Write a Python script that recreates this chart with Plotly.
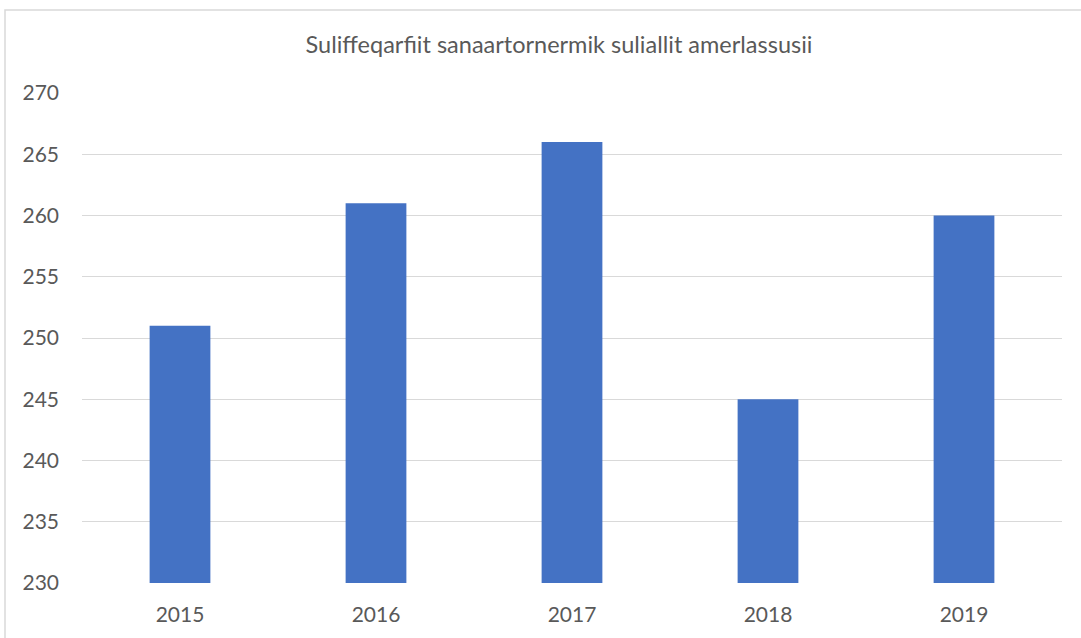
import plotly.graph_objects as go

years = ["2015", "2016", "2017", "2018", "2019"]
values = [251, 261, 266, 245, 260]
y_ticks = [230, 235, 240, 245, 250, 255, 260, 265, 270]

W, H = 1081, 638
L, R, T, B = 82, 19, 93, 55
pw, ph = W - L - R, H - T - B

fig = go.Figure(
    go.Bar(x=years, y=values, marker=dict(color="#4472C4", line=dict(width=0)))
)

fig.update_layout(
    width=W,
    height=H,
    margin=dict(l=L, r=R, t=T, b=B),
    paper_bgcolor="white",
    plot_bgcolor="white",
    bargap=0.69,
    showlegend=False,
    font=dict(family="Lato, Open Sans, sans-serif", color="#595959", size=21),
    title=dict(
        text="Suliffeqarfiit sanaartornermik suliallit amerlassusii",
        x=559 / W,
        xanchor="center",
        y=1 - 45 / H,
        yanchor="middle",
        font=dict(size=23.5, color="#595959"),
    ),
    xaxis=dict(
        showgrid=False,
        showline=False,
        ticks="",
        ticklabelstandoff=17,
    ),
    yaxis=dict(
        range=[230, 270],
        tickvals=y_ticks,
        showgrid=True,
        gridcolor="#d9d9d9",
        gridwidth=1,
        zeroline=False,
        showline=False,
        ticks="",
        ticklabelstandoff=22,
    ),
    shapes=[
        dict(
            type="rect",
            xref="paper",
            yref="paper",
            x0=(5 - L) / pw,
            x1=(W + 20 - L) / pw,
            y0=-(B + 20) / ph,
            y1=(H - B - 10) / ph,
            line=dict(color="#d9d9d9", width=1.5),
            fillcolor="rgba(0,0,0,0)",
            layer="below",
        )
    ],
)

fig.write_html("out.html")
